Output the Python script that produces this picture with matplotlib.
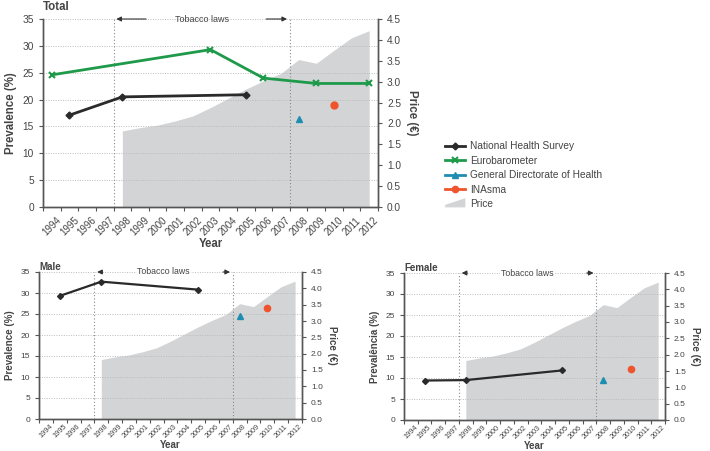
import matplotlib
matplotlib.use("Agg")
import matplotlib.pyplot as plt
import numpy as np
from matplotlib.lines import Line2D
from matplotlib.patches import Patch, Polygon
from matplotlib.legend_handler import HandlerPatch

plt.rcParams['font.family'] = ['Liberation Sans', 'DejaVu Sans']

years = [str(y) for y in range(1994, 2013)]

price_years = list(range(1998, 2013))
price = [1.82, 1.90, 1.96, 2.06, 2.18, 2.38, 2.60, 2.82, 3.02, 3.20, 3.53, 3.44, 3.75, 4.05, 4.22]

nhs_years = [1995, 1998, 2005]
nhs_total = [17.1, 20.5, 20.9]
nhs_male = [29.3, 32.7, 30.8]
nhs_female = [9.4, 9.5, 11.8]

euro_years = [1994, 2003, 2006, 2009, 2012]
euro_total = [24.6, 29.3, 24.0, 23.0, 23.0]

dgs_year = [2008]
dgs_total = [16.3]
dgs_male = [24.5]
dgs_female = [9.6]

inasma_year = [2010]
inasma_total = [19.0]
inasma_male = [26.4]
inasma_female = [12.2]

C_NHS = '#2a2a2a'
C_EURO = '#1f9a4a'
C_DGS = '#1f8db0'
C_INA = '#f0542c'
C_AREA = '#d3d4d6'
C_TXT = '#444444'

W, H = 710, 451
fig = plt.figure(figsize=(W / 100, H / 100), dpi=100)


def rect(l, r, t, b):
    return [l / W, 1 - b / H, (r - l) / W, (b - t) / H]


def xi(ys):
    return [y - 1994 for y in ys]


def panel(box, title, ylabel, nhs, euro, dgs, ina, big):
    fs = 7.3 if big else 6.0
    xfs = 7.0 if big else 5.2
    lfs = 8.3 if big else 7.0
    ax = fig.add_axes(rect(*box))
    ax2 = ax.twinx()
    ax.set_zorder(ax2.get_zorder() + 1)
    ax.patch.set_visible(False)

    ax2.fill_between(xi(price_years), price, 0, color=C_AREA, lw=0, zorder=1)
    ax2.set_ylim(0, 4.5)
    ax2.set_yticks(np.arange(0, 4.51, 0.5))
    ax2.set_yticklabels(['%.1f' % v for v in np.arange(0, 4.51, 0.5)], fontsize=fs, color=C_TXT)
    ax2.set_ylabel('Price (€)', rotation=270, fontsize=lfs, fontweight='bold',
                   color=C_TXT, labelpad=12 if big else 10)

    ax.set_xlim(-0.5, 18.5)
    ax.set_ylim(0, 35)
    ax.set_yticks(range(0, 36, 5))
    ax.set_yticklabels([str(v) for v in range(0, 36, 5)], fontsize=fs, color=C_TXT)
    ax.set_xticks(np.arange(-0.5, 18.6, 1))
    ax.set_xticklabels([])
    ax.set_xticks(range(19), minor=True)
    ax.set_xticklabels(years, minor=True, rotation=45, ha='center', fontsize=xfs, color=C_TXT)
    ax.tick_params(axis='x', which='minor', length=0, pad=6 if big else 3)
    ax.tick_params(axis='x', which='major', length=3, color='#555555')
    ax.tick_params(axis='y', length=3, color='#555555')
    ax2.tick_params(axis='y', length=3, color='#555555')
    for a in (ax, ax2):
        a.spines['top'].set_visible(False)
        for s in ('left', 'right', 'bottom'):
            a.spines[s].set_color('#555555')
            a.spines[s].set_linewidth(1.0)
    ax.set_xlabel('Year', fontsize=lfs, fontweight='bold', color=C_TXT, labelpad=0)
    ax.set_ylabel(ylabel, fontsize=lfs, fontweight='bold', color=C_TXT)

    for v in range(5, 36, 5):
        ax.axhline(v, color='#bbbbbb', lw=0.7, ls=(0, (1, 1.5)), zorder=0)
    for v in (3.5, 13.5):
        ax.axvline(v, color='#888888', lw=0.8, ls=(0, (1, 2)), zorder=2)

    lw = 2.0 if big else 1.6
    ms = 4 if big else 3.5
    ax.plot(xi(nhs_years), nhs, color=C_NHS, lw=lw, marker='D', ms=ms - 0.5, zorder=5)
    if euro is not None:
        ax.plot(xi(euro_years), euro, color=C_EURO, lw=lw, marker='x', ms=ms + 1, mew=1.5, zorder=5)
    ax.plot(xi(dgs_year), dgs, color=C_DGS, lw=0, marker='^', ms=ms + 1, zorder=5)
    ax.plot(xi(inasma_year), ina, color=C_INA, lw=0, marker='o', ms=ms + 1, zorder=5)

    if big:
        a1, a2 = (5.5, 12.0)
    else:
        a1, a2 = (4.3, 12.6)
    ax.annotate('', xy=(3.5, 35), xytext=(a1, 35),
                arrowprops=dict(arrowstyle='-|>', color='#333333', lw=0.8, mutation_scale=7),
                annotation_clip=False)
    ax.annotate('', xy=(13.5, 35), xytext=(a2, 35),
                arrowprops=dict(arrowstyle='-|>', color='#333333', lw=0.8, mutation_scale=7),
                annotation_clip=False)
    ax.text(8.5, 35.0, 'Tobacco laws', ha='center', va='center',
            fontsize=6.5 if big else 6.3, color=C_TXT,
            bbox=dict(facecolor='white', edgecolor='none', pad=1) if not big else None)
    ax.text(0.0, 1.0 if not big else 1.03, title, transform=ax.transAxes, fontsize=lfs,
            fontweight='bold', color=C_TXT, ha='left', va='bottom')
    return ax


ax_t = panel((43, 378, 19, 207), 'Total', 'Prevalence (%)', nhs_total, euro_total,
             dgs_total, inasma_total, True)
ax_m = panel((39, 302, 272, 419), 'Male', 'Prevalence (%)', nhs_male, None,
             dgs_male, inasma_male, False)
ax_f = panel((404, 665, 273, 420), 'Female', 'Prevalência (%)', nhs_female, None,
             dgs_female, inasma_female, False)


def wedge(legend, orig_handle, xdescent, ydescent, width, height, fontsize):
    return Polygon([[-xdescent, -ydescent], [width - xdescent, -ydescent],
                    [width - xdescent, height * 1.3 - ydescent],
                    [-xdescent, height * 0.35 - ydescent]], closed=True)


handles = [
    Line2D([], [], color=C_NHS, lw=2, marker='D', ms=3.5),
    Line2D([], [], color=C_EURO, lw=2, marker='x', ms=5, mew=1.5),
    Line2D([], [], color=C_DGS, lw=2, marker='^', ms=4.5),
    Line2D([], [], color=C_INA, lw=2, marker='o', ms=4.5),
    Patch(facecolor=C_AREA, edgecolor='none'),
]
labels = ['National Health Survey', 'Eurobarometer', 'General Directorate of Health', 'INAsma', 'Price']
fig.legend(handles, labels, loc='upper left', bbox_to_anchor=(436 / W, 1 - 132 / H),
           frameon=False, fontsize=7.3, handlelength=2.0, labelspacing=0.45,
           handletextpad=0.5, labelcolor=C_TXT,
           handler_map={Patch: HandlerPatch(patch_func=wedge)})

fig.savefig('out.png', dpi=100)
